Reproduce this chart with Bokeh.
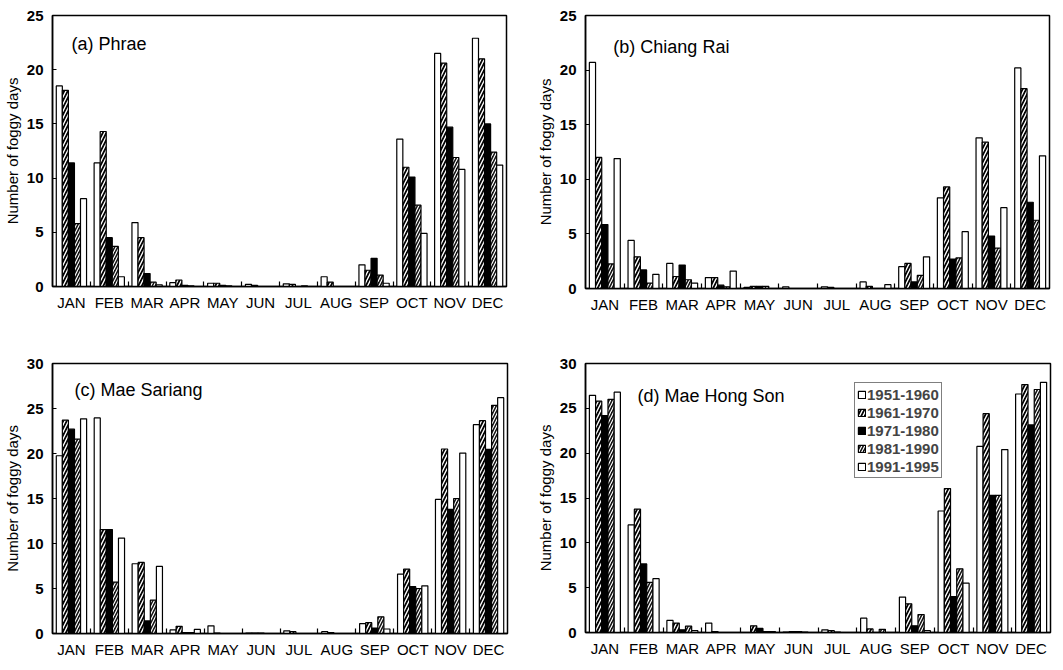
from bokeh.plotting import figure
from bokeh.layouts import gridplot
from bokeh.models import FixedTicker, Range1d, Label, Legend, LegendItem, CustomJSTickFormatter
from bokeh.embed import file_html
from bokeh.resources import INLINE

months = ["JAN", "FEB", "MAR", "APR", "MAY", "JUN", "JUL", "AUG", "SEP", "OCT", "NOV", "DEC"]
periods = ["1951-1960", "1961-1970", "1971-1980", "1981-1990", "1991-1995"]

# (a) Phrae
phrae_1951 = [18.5, 11.4, 5.9, 0.35, 0.3, 0.2, 0.25, 0.9, 2.0, 13.6, 21.5, 22.9]
phrae_1961 = [18.1, 14.3, 4.5, 0.6, 0.3, 0.1, 0.2, 0.4, 1.5, 11.0, 20.6, 21.0]
phrae_1971 = [11.4, 4.5, 1.2, 0.1, 0.1, 0.0, 0.0, 0.0, 2.6, 10.1, 14.7, 15.0]
phrae_1981 = [5.8, 3.7, 0.4, 0.05, 0.05, 0.0, 0.05, 0.0, 1.05, 7.5, 11.9, 12.4]
phrae_1991 = [8.1, 0.9, 0.15, 0.0, 0.0, 0.0, 0.0, 0.0, 0.3, 4.9, 10.8, 11.2]

# (b) Chiang Rai
chiangrai_1951 = [20.7, 4.4, 2.3, 1.0, 0.1, 0.15, 0.15, 0.6, 2.0, 8.3, 13.8, 20.2]
chiangrai_1961 = [12.0, 2.9, 1.1, 1.0, 0.2, 0.0, 0.1, 0.2, 2.3, 9.3, 13.4, 18.3]
chiangrai_1971 = [5.85, 1.7, 2.15, 0.3, 0.2, 0.0, 0.0, 0.0, 0.6, 2.7, 4.8, 7.9]
chiangrai_1981 = [2.25, 0.5, 0.8, 0.15, 0.2, 0.0, 0.0, 0.0, 1.2, 2.8, 3.7, 6.25]
chiangrai_1991 = [11.9, 1.3, 0.5, 1.6, 0.0, 0.0, 0.0, 0.35, 2.9, 5.2, 7.4, 12.15]

# (c) Mae Sariang
maesariang_1951 = [19.75, 23.95, 7.75, 0.4, 0.85, 0.05, 0.3, 0.2, 1.1, 6.6, 14.9, 23.2]
maesariang_1961 = [23.7, 11.55, 7.9, 0.8, 0.05, 0.05, 0.2, 0.1, 1.2, 7.15, 20.5, 23.65]
maesariang_1971 = [22.7, 11.55, 1.4, 0.1, 0.0, 0.05, 0.0, 0.0, 0.6, 5.2, 13.8, 20.45]
maesariang_1981 = [21.6, 5.7, 3.7, 0.1, 0.0, 0.0, 0.0, 0.0, 1.85, 5.0, 15.0, 25.35]
maesariang_1991 = [23.85, 10.6, 7.45, 0.45, 0.0, 0.0, 0.0, 0.0, 0.5, 5.3, 20.05, 26.2]

# (d) Mae Hong Son
maehongson_1951 = [26.45, 12.0, 1.35, 1.05, 0.0, 0.05, 0.3, 1.6, 3.95, 13.55, 20.75, 26.6]
maehongson_1961 = [25.8, 13.75, 1.05, 0.1, 0.75, 0.1, 0.2, 0.4, 3.2, 16.05, 24.4, 27.65]
maehongson_1971 = [24.2, 7.65, 0.3, 0.0, 0.45, 0.1, 0.05, 0.0, 0.75, 4.0, 15.3, 23.15]
maehongson_1981 = [26.0, 5.6, 0.7, 0.0, 0.1, 0.05, 0.0, 0.35, 2.0, 7.1, 15.3, 27.1]
maehongson_1991 = [26.8, 6.0, 0.2, 0.0, 0.1, 0.0, 0.0, 0.0, 0.2, 5.5, 20.4, 27.9]

FONT = "Liberation Sans"

STYLES = [
    dict(fill_color="white"),
    dict(fill_color="black", hatch_pattern="/", hatch_color="white", hatch_scale=7, hatch_weight=1.4),
    dict(fill_color="black"),
    dict(fill_color="#111111", hatch_pattern="/", hatch_color="white", hatch_scale=6, hatch_weight=1.2),
    dict(fill_color="white"),
]

BAR_W = 0.16


def make_panel(title, series, ymax, tx, ty, fw, fh, bl, br, bt, bb, legend_loc=None):
    p = figure(frame_width=fw, frame_height=fh, x_range=Range1d(0, 12), y_range=Range1d(0, ymax),
               output_backend="svg", toolbar_location=None,
               min_border_left=bl, min_border_right=br, min_border_top=bt, min_border_bottom=bb)
    p.xgrid.visible = False
    p.ygrid.visible = False
    p.outline_line_color = "black"
    p.outline_line_width = 1.5
    p.background_fill_color = "white"
    p.border_fill_color = "white"

    renderers = []
    for k, vals in enumerate(series):
        xs = [i + 0.5 + (k - 2) * BAR_W for i in range(12)]
        r = p.vbar(x=xs, top=vals, width=BAR_W, bottom=0, line_color="black", line_width=1.2,
                   **STYLES[k])
        renderers.append(r)

    xa = p.xaxis[0]
    xa.ticker = FixedTicker(ticks=[i + 0.5 for i in range(12)], minor_ticks=list(range(1, 12)))
    xa.formatter = CustomJSTickFormatter(args=dict(m=months), code="return m[Math.floor(tick)] || ''")
    xa.major_tick_in = 0
    xa.major_tick_out = 0
    xa.minor_tick_in = 5
    xa.minor_tick_out = 0
    xa.minor_tick_line_color = "black"
    xa.minor_tick_line_width = 1.2
    xa.major_label_text_font = FONT
    xa.major_label_text_font_size = "15px"
    xa.major_label_text_color = "black"
    xa.major_label_standoff = 7
    xa.axis_line_color = "black"
    xa.axis_line_width = 1.5

    ya = p.yaxis[0]
    ya.ticker = FixedTicker(ticks=list(range(0, ymax + 1, 5)), minor_ticks=[])
    ya.major_tick_in = 4
    ya.major_tick_out = 0
    ya.minor_tick_in = 0
    ya.minor_tick_out = 0
    ya.major_tick_line_color = "black"
    ya.major_tick_line_width = 1.2
    ya.major_label_text_font = FONT
    ya.major_label_text_font_size = "15px"
    ya.major_label_text_font_style = "bold"
    ya.major_label_text_color = "black"
    ya.major_label_standoff = 9
    ya.axis_label = "Number of foggy days"
    ya.axis_label_text_font = FONT
    ya.axis_label_text_font_size = "15px"
    ya.axis_label_text_font_style = "normal"
    ya.axis_label_text_color = "black"
    ya.axis_label_standoff = 3
    ya.axis_line_color = "black"
    ya.axis_line_width = 1.5

    p.add_layout(Label(x=tx, y=ty, text=title, text_font=FONT, text_font_size="18px",
                       text_baseline="middle", text_align="left", text_color="black"))

    if legend_loc is not None:
        items = [LegendItem(label=periods[k], renderers=[renderers[k]]) for k in range(5)]
        lg = Legend(items=items, location=legend_loc, orientation="vertical")
        lg.border_line_color = "black"
        lg.border_line_width = 1.2
        lg.background_fill_color = "white"
        lg.background_fill_alpha = 1
        lg.padding = 2
        lg.spacing = 0
        lg.margin = 0
        lg.glyph_width = 9
        lg.glyph_height = 9
        lg.label_height = 18
        lg.label_standoff = 1
        lg.label_text_font = FONT
        lg.label_text_font_size = "15px"
        lg.label_text_font_style = "bold"
        lg.label_text_baseline = "middle"
        p.add_layout(lg)
    return p


pa = make_panel("(a) Phrae", [phrae_1951, phrae_1961, phrae_1971, phrae_1981, phrae_1991],
                25, 0.5, 22.4, 454, 271, 50, 18, 12, 45)
pb = make_panel("(b) Chiang Rai", [chiangrai_1951, chiangrai_1961, chiangrai_1971, chiangrai_1981, chiangrai_1991],
                25, 0.72, 22.15, 464, 273, 58, 3, 15, 40)
pc = make_panel("(c) Mae Sariang", [maesariang_1951, maesariang_1961, maesariang_1971, maesariang_1981, maesariang_1991],
                30, 0.58, 27.1, 455, 270, 47, 20, 30, 28)
pd = make_panel("(d) Mae Hong Son", [maehongson_1951, maehongson_1961, maehongson_1971, maehongson_1981, maehongson_1991],
                30, 1.34, 26.4, 465, 269, 57, 3, 35, 24, legend_loc=(269, 154))

grid = gridplot([[pa, pb], [pc, pd]], toolbar_location=None)

open("out.html", "w").write(file_html(grid, INLINE))
